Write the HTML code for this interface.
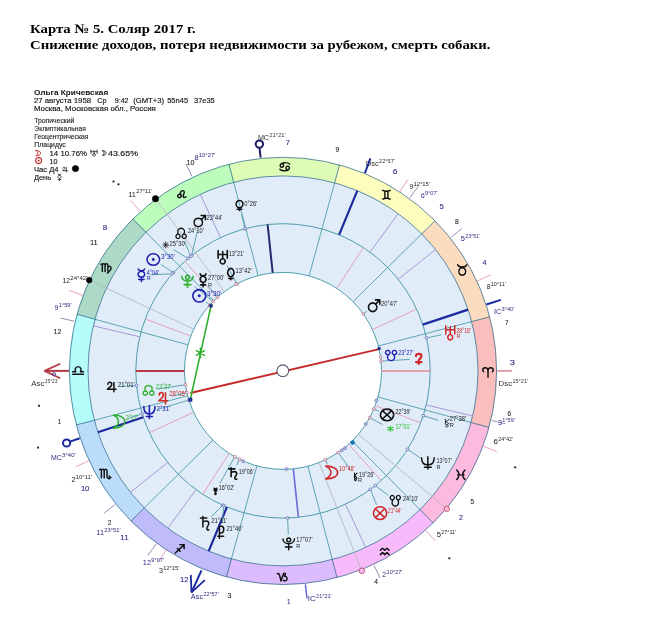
<!DOCTYPE html>
<html><head><meta charset="utf-8"><style>
html,body{margin:0;padding:0;background:#fff;}
body{width:646px;height:628px;overflow:hidden;}
svg{display:block;will-change:transform;}
</style></head><body>
<svg width="646" height="628" viewBox="0 0 646 628"><g style="opacity:0.999">
<text x="30" y="32.8" font-family='"Liberation Serif",serif' font-weight="bold" font-size="13" textLength="165.7" lengthAdjust="spacingAndGlyphs">Карта № 5. Соляр 2017 г.</text>
<text x="30" y="49.2" font-family='"Liberation Serif",serif' font-weight="bold" font-size="13" textLength="460.5" lengthAdjust="spacingAndGlyphs">Снижение доходов, потеря недвижимости за рубежом, смерть собаки.</text>
<text x="33.9" y="95" font-family='"Liberation Sans",sans-serif' font-size="7.8" fill="#111" font-weight="bold" textLength="74.3" lengthAdjust="spacingAndGlyphs">Ольга Кричевская</text>
<text x="33.9" y="103.4" font-family='"Liberation Sans",sans-serif' font-size="8" fill="#111" textLength="57.2" lengthAdjust="spacingAndGlyphs" stroke="#111" stroke-width="0.15">27 августа 1958</text>
<text x="97.3" y="103.4" font-family='"Liberation Sans",sans-serif' font-size="8" fill="#111" textLength="9.3" lengthAdjust="spacingAndGlyphs" stroke="#111" stroke-width="0.15">Ср</text>
<text x="114.8" y="103.4" font-family='"Liberation Sans",sans-serif' font-size="8" fill="#111" textLength="13.7" lengthAdjust="spacingAndGlyphs" stroke="#111" stroke-width="0.15">9:42</text>
<text x="133.2" y="103.4" font-family='"Liberation Sans",sans-serif' font-size="8" fill="#111" textLength="30.9" lengthAdjust="spacingAndGlyphs" stroke="#111" stroke-width="0.15">(GMT+3)</text>
<text x="167.2" y="103.4" font-family='"Liberation Sans",sans-serif' font-size="8" fill="#111" textLength="20.9" lengthAdjust="spacingAndGlyphs" stroke="#111" stroke-width="0.15">55n45</text>
<text x="194" y="103.4" font-family='"Liberation Sans",sans-serif' font-size="8" fill="#111" textLength="20.7" lengthAdjust="spacingAndGlyphs" stroke="#111" stroke-width="0.15">37e35</text>
<text x="33.9" y="110.9" font-family='"Liberation Sans",sans-serif' font-size="8" fill="#111" textLength="122" lengthAdjust="spacingAndGlyphs" stroke="#111" stroke-width="0.15">Москва, Московская обл., Россия</text>
<text x="34.3" y="123.2" font-family='"Liberation Sans",sans-serif' font-size="6.8" fill="#222" textLength="40.1" lengthAdjust="spacingAndGlyphs" stroke="#222" stroke-width="0.12">Тропический</text>
<text x="34.3" y="131.3" font-family='"Liberation Sans",sans-serif' font-size="6.8" fill="#222" textLength="51.5" lengthAdjust="spacingAndGlyphs" stroke="#222" stroke-width="0.12">Эклиптикальная</text>
<text x="34.3" y="139.1" font-family='"Liberation Sans",sans-serif' font-size="6.8" fill="#222" textLength="54.2" lengthAdjust="spacingAndGlyphs" stroke="#222" stroke-width="0.12">Геоцентрическая</text>
<text x="34.3" y="147" font-family='"Liberation Sans",sans-serif' font-size="6.8" fill="#222" textLength="31.5" lengthAdjust="spacingAndGlyphs" stroke="#222" stroke-width="0.12">Плацидус</text>
<path d="M0.5,0.5 C8,0.3 12,4 12,7.5 C12,11 8,14.7 0.5,14.5 C4,12.5 5.5,10.5 5.5,7.5 C5.5,4.5 4,2.5 0.5,0.5 Z" transform="translate(35.5,150.3) scale(0.42,0.38)" fill="none" stroke="#c03030" stroke-width="1.0" vector-effect="non-scaling-stroke" stroke-linecap="round" stroke-linejoin="round"/>
<text x="49.5" y="155.5" font-family='"Liberation Sans",sans-serif' font-size="8" fill="#111" textLength="37.5" lengthAdjust="spacingAndGlyphs" stroke="#111" stroke-width="0.15">14 10.76%</text>
<path d="M0,0 V8 M10,0 V8 M0,4 H10 M5,1 V8.5 M5,8.5 A2.7,2.7 0 1 0 5.01,8.5 Z" transform="translate(90.9,149.9) scale(0.62,0.44)" fill="none" stroke="#222" stroke-width="0.8" vector-effect="non-scaling-stroke" stroke-linecap="round" stroke-linejoin="round"/>
<path d="M0.5,0.5 C8,0.3 12,4 12,7.5 C12,11 8,14.7 0.5,14.5 C4,12.5 5.5,10.5 5.5,7.5 C5.5,4.5 4,2.5 0.5,0.5 Z" transform="translate(102.25,150.45) scale(0.32,0.34)" fill="none" stroke="#222" stroke-width="0.9" vector-effect="non-scaling-stroke" stroke-linecap="round" stroke-linejoin="round"/>
<text x="108" y="155.5" font-family='"Liberation Sans",sans-serif' font-size="8" fill="#111" textLength="30" lengthAdjust="spacingAndGlyphs" stroke="#111" stroke-width="0.15">43.65%</text>
<circle cx="38.6" cy="160.6" r="3" fill="none" stroke="#c03030" stroke-width="1.1"/>
<circle cx="38.6" cy="160.6" r="0.8" fill="#c03030" stroke="#c03030" stroke-width="0.5"/>
<text x="49.5" y="163.7" font-family='"Liberation Sans",sans-serif' font-size="8" fill="#111" textLength="8" lengthAdjust="spacingAndGlyphs" stroke="#111" stroke-width="0.15">10</text>
<text x="34" y="172" font-family='"Liberation Sans",sans-serif' font-size="8" fill="#111" textLength="24.5" lengthAdjust="spacingAndGlyphs" stroke="#111" stroke-width="0.15">Час Д4</text>
<path d="M0.5,2.5 C0.5,-0.5 5,-0.5 5,2.5 C5,5 2,6.5 0,8 H10 M7.5,0.5 V11" transform="translate(62.4,166.9) scale(0.52,0.47)" fill="none" stroke="#222" stroke-width="0.8" vector-effect="non-scaling-stroke" stroke-linecap="round" stroke-linejoin="round"/>
<circle cx="75.5" cy="168.6" r="3.2" fill="#000" stroke="#000" stroke-width="0.5"/>
<text x="34" y="180.3" font-family='"Liberation Sans",sans-serif' font-size="8" fill="#111" textLength="17" lengthAdjust="spacingAndGlyphs" stroke="#111" stroke-width="0.15">День</text>
<path d="M1,0 C1.5,3 7.5,3 8,0 M4.5,2.8 A3.6,3.6 0 1 0 4.51,2.8 Z M4.5,10 V15 M1.5,12.7 H7.5" transform="translate(57.4,173.9) scale(0.47,0.45)" fill="none" stroke="#222" stroke-width="0.8" vector-effect="non-scaling-stroke" stroke-linecap="round" stroke-linejoin="round"/>
<rect x="112.5" y="180.6" width="2" height="1.8" fill="#222"/>
<rect x="117.5" y="183.4" width="2" height="1.8" fill="#222"/>
<rect x="38" y="404.8" width="2" height="1.8" fill="#222"/>
<rect x="37" y="446.7" width="2" height="1.8" fill="#222"/>
<rect x="514.2" y="466.4" width="2" height="1.8" fill="#222"/>
<rect x="448.4" y="557.4" width="2" height="1.8" fill="#222"/>
<circle cx="283" cy="370.9" r="146.75" fill="none" stroke="#e0ecf8" stroke-width="96.5"/>
<path d="M488.98,427.44 A213.6,213.6 0 0 0 489.66,316.88 L471.66,321.58 A195.0,195.0 0 0 1 471.04,422.52 Z" fill="#fabebc"/>
<path d="M489.66,316.88 A213.6,213.6 0 0 0 434.96,220.79 L421.73,233.86 A195.0,195.0 0 0 1 471.66,321.58 Z" fill="#fcdcbe"/>
<path d="M434.96,220.79 A213.6,213.6 0 0 0 339.54,164.92 L334.62,182.86 A195.0,195.0 0 0 1 421.73,233.86 Z" fill="#fdfdbe"/>
<path d="M339.54,164.92 A213.6,213.6 0 0 0 228.98,164.24 L233.68,182.24 A195.0,195.0 0 0 1 334.62,182.86 Z" fill="#ddfdb6"/>
<path d="M228.98,164.24 A213.6,213.6 0 0 0 132.89,218.94 L145.96,232.17 A195.0,195.0 0 0 1 233.68,182.24 Z" fill="#bdfdbc"/>
<path d="M132.89,218.94 A213.6,213.6 0 0 0 77.02,314.36 L94.96,319.28 A195.0,195.0 0 0 1 145.96,232.17 Z" fill="#acdac6"/>
<path d="M77.02,314.36 A213.6,213.6 0 0 0 76.34,424.92 L94.34,420.22 A195.0,195.0 0 0 1 94.96,319.28 Z" fill="#b4fdfb"/>
<path d="M76.34,424.92 A213.6,213.6 0 0 0 131.04,521.01 L144.27,507.94 A195.0,195.0 0 0 1 94.34,420.22 Z" fill="#bcdcfc"/>
<path d="M131.04,521.01 A213.6,213.6 0 0 0 226.46,576.88 L231.38,558.94 A195.0,195.0 0 0 1 144.27,507.94 Z" fill="#c0bcfc"/>
<path d="M226.46,576.88 A213.6,213.6 0 0 0 337.02,577.56 L332.32,559.56 A195.0,195.0 0 0 1 231.38,558.94 Z" fill="#dcbcfc"/>
<path d="M337.02,577.56 A213.6,213.6 0 0 0 433.11,522.86 L420.04,509.63 A195.0,195.0 0 0 1 332.32,559.56 Z" fill="#f8bafa"/>
<path d="M433.11,522.86 A213.6,213.6 0 0 0 488.98,427.44 L471.04,422.52 A195.0,195.0 0 0 1 420.04,509.63 Z" fill="#fbbade"/>
<circle cx="283" cy="370.9" r="147.2" fill="none" stroke="#4f9dac" stroke-width="1"/>
<circle cx="283" cy="370.9" r="98.5" fill="none" stroke="#4f9dac" stroke-width="1"/>
<line x1="471.04" y1="422.52" x2="377.99" y2="396.97" stroke="#4f9dac" stroke-width="0.9"/>
<line x1="471.66" y1="321.58" x2="378.3" y2="345.99" stroke="#4f9dac" stroke-width="0.9"/>
<line x1="421.73" y1="233.86" x2="353.07" y2="301.68" stroke="#4f9dac" stroke-width="0.9"/>
<line x1="334.62" y1="182.86" x2="309.07" y2="275.91" stroke="#4f9dac" stroke-width="0.9"/>
<line x1="233.68" y1="182.24" x2="258.09" y2="275.6" stroke="#4f9dac" stroke-width="0.9"/>
<line x1="145.96" y1="232.17" x2="213.78" y2="300.83" stroke="#4f9dac" stroke-width="0.9"/>
<line x1="94.96" y1="319.28" x2="188.01" y2="344.83" stroke="#4f9dac" stroke-width="0.9"/>
<line x1="94.34" y1="420.22" x2="187.7" y2="395.81" stroke="#4f9dac" stroke-width="0.9"/>
<line x1="144.27" y1="507.94" x2="212.93" y2="440.12" stroke="#4f9dac" stroke-width="0.9"/>
<line x1="231.38" y1="558.94" x2="256.93" y2="465.89" stroke="#4f9dac" stroke-width="0.9"/>
<line x1="332.32" y1="559.56" x2="307.91" y2="466.2" stroke="#4f9dac" stroke-width="0.9"/>
<line x1="420.04" y1="509.63" x2="352.22" y2="440.97" stroke="#4f9dac" stroke-width="0.9"/>
<line x1="488.98" y1="427.44" x2="471.04" y2="422.52" stroke="#1a5a80" stroke-width="1.0" stroke-opacity="0.7"/>
<line x1="489.66" y1="316.88" x2="471.66" y2="321.58" stroke="#1a5a80" stroke-width="1.0" stroke-opacity="0.7"/>
<line x1="434.96" y1="220.79" x2="421.73" y2="233.86" stroke="#1a5a80" stroke-width="1.0" stroke-opacity="0.7"/>
<line x1="339.54" y1="164.92" x2="334.62" y2="182.86" stroke="#1a5a80" stroke-width="1.0" stroke-opacity="0.7"/>
<line x1="228.98" y1="164.24" x2="233.68" y2="182.24" stroke="#1a5a80" stroke-width="1.0" stroke-opacity="0.7"/>
<line x1="132.89" y1="218.94" x2="145.96" y2="232.17" stroke="#1a5a80" stroke-width="1.0" stroke-opacity="0.7"/>
<line x1="77.02" y1="314.36" x2="94.96" y2="319.28" stroke="#1a5a80" stroke-width="1.0" stroke-opacity="0.7"/>
<line x1="76.34" y1="424.92" x2="94.34" y2="420.22" stroke="#1a5a80" stroke-width="1.0" stroke-opacity="0.7"/>
<line x1="131.04" y1="521.01" x2="144.27" y2="507.94" stroke="#1a5a80" stroke-width="1.0" stroke-opacity="0.7"/>
<line x1="226.46" y1="576.88" x2="231.38" y2="558.94" stroke="#1a5a80" stroke-width="1.0" stroke-opacity="0.7"/>
<line x1="337.02" y1="577.56" x2="332.32" y2="559.56" stroke="#1a5a80" stroke-width="1.0" stroke-opacity="0.7"/>
<line x1="433.11" y1="522.86" x2="420.04" y2="509.63" stroke="#1a5a80" stroke-width="1.0" stroke-opacity="0.7"/>
<circle cx="283" cy="370.9" r="213.6" fill="none" stroke="#1a5a80" stroke-opacity="0.68" stroke-width="1"/>
<circle cx="283" cy="370.9" r="195" fill="none" stroke="#1a5a80" stroke-opacity="0.68" stroke-width="1"/>
<path d="M6,12 V5 C6,1 4.5,0 3,0 C1,0 0,1.5 0,3 C0,4 0.5,4.5 1,5 M6,5 C6,1 7.5,0 9,0 C11,0 12,1.5 12,3 C12,4 11.5,4.5 11,5" transform="translate(482.73,367.73) scale(0.88,0.79)" fill="none" stroke="#111" stroke-width="1.45" vector-effect="non-scaling-stroke" stroke-linecap="round" stroke-linejoin="round"/>
<path d="M0,0 C1,3.5 10,3.5 11,0 M5.5,3.5 A4.25,4.25 0 1 0 5.51,3.5 Z" transform="translate(457.73,264.73) scale(0.82,0.87)" fill="none" stroke="#111" stroke-width="1.45" vector-effect="non-scaling-stroke" stroke-linecap="round" stroke-linejoin="round"/>
<path d="M0,0 C3,1.3 7,1.3 10,0 M0,11 C3,9.7 7,9.7 10,11 M3,1 V10 M7,1 V10" transform="translate(382.62,190.32) scale(0.76,0.8)" fill="none" stroke="#111" stroke-width="1.45" vector-effect="non-scaling-stroke" stroke-linecap="round" stroke-linejoin="round"/>
<path d="M2.4,1.5 A2.1,2.1 0 1 0 2.41,1.5 Z M0.5,2.6 C2,0 9,-0.5 12,2 M9.6,4.3 A2.1,2.1 0 1 0 9.61,4.3 Z M11.5,7.4 C10,10 3,10.5 0,8" transform="translate(279.93,162.32) scale(0.81,0.88)" fill="none" stroke="#111" stroke-width="1.45" vector-effect="non-scaling-stroke" stroke-linecap="round" stroke-linejoin="round"/>
<path d="M5,8.5 A2.5,2.5 0 1 0 5,8.51 M5,8.5 C5,6 3.5,4.5 4,3 C4.5,0 9,-0.5 9.5,2.5 C10,5 7,7 8,9.5 C8.5,11 11,11 12,9.5" transform="translate(177.72,190.32) scale(0.69,0.67)" fill="none" stroke="#111" stroke-width="1.45" vector-effect="non-scaling-stroke" stroke-linecap="round" stroke-linejoin="round"/>
<path d="M0,1 C0.8,0.3 1.5,0.5 1.5,1.5 V10 M1.5,2.5 C1.5,-0.3 4.5,-0.3 4.5,2.5 V10 M4.5,2.5 C4.5,-0.3 7.5,-0.3 7.5,2.5 V9.5 M7.5,4.5 C9,3 11,3.5 11,6 C11,8.5 9,10 7,12" transform="translate(100.92,263.43) scale(0.93,0.8)" fill="none" stroke="#111" stroke-width="1.45" vector-effect="non-scaling-stroke" stroke-linecap="round" stroke-linejoin="round"/>
<path d="M0,9 H12 M0,6 H3.5 C2,4.5 2.5,0 6,0 C9.5,0 10,4.5 8.5,6 H12" transform="translate(72.72,366.62) scale(0.9,0.84)" fill="none" stroke="#111" stroke-width="1.45" vector-effect="non-scaling-stroke" stroke-linecap="round" stroke-linejoin="round"/>
<path d="M0,1.5 C1,0.5 2,1 2,2.5 V10 M2,3 C2,0.5 5,0.5 5,3 V10 M5,3 C5,0.5 8,0.5 8,3 V9 C8,10.5 9.5,11 12,9.8 M10.3,8 L12,9.8 L10,11" transform="translate(99.52,468.23) scale(0.94,0.96)" fill="none" stroke="#111" stroke-width="1.45" vector-effect="non-scaling-stroke" stroke-linecap="round" stroke-linejoin="round"/>
<path d="M0,11 L11,0 M5.5,0 H11 V5.5 M2.5,5 L6,8.5" transform="translate(175.32,544.62) scale(0.8,0.77)" fill="none" stroke="#111" stroke-width="1.45" vector-effect="non-scaling-stroke" stroke-linecap="round" stroke-linejoin="round"/>
<path d="M0,1.5 C1,0.5 2,1.5 2.5,3 L4.5,12 L7.5,2 C8,0.3 10,0.5 10,2.5 C10,4 8.5,5 8.5,5 C11,5 12,7 12,9 C12,11.5 9.5,12.5 7.5,11" transform="translate(277.43,572.62) scale(0.8,0.7)" fill="none" stroke="#111" stroke-width="1.45" vector-effect="non-scaling-stroke" stroke-linecap="round" stroke-linejoin="round"/>
<path d="M0,3 L3,0.5 L6,3 L9,0.5 L12,3 M0,8 L3,5.5 L6,8 L9,5.5 L12,8" transform="translate(380.33,547.73) scale(0.73,0.86)" fill="none" stroke="#111" stroke-width="1.45" vector-effect="non-scaling-stroke" stroke-linecap="round" stroke-linejoin="round"/>
<path d="M0.5,0 C4,2.5 4,8.5 0.5,11 M10.5,0 C7,2.5 7,8.5 10.5,11 M1.5,5.5 H9.5" transform="translate(456.33,470.12) scale(0.82,0.86)" fill="none" stroke="#111" stroke-width="1.45" vector-effect="non-scaling-stroke" stroke-linecap="round" stroke-linejoin="round"/>
<line x1="193.61" y1="412.26" x2="149.41" y2="432.71" stroke="#e6a0c0" stroke-width="1.0"/>
<line x1="89.15" y1="460.6" x2="75.53" y2="466.9" stroke="#e6a0c0" stroke-width="1.0"/>
<line x1="229.21" y1="453.42" x2="202.61" y2="494.21" stroke="#e6a0c0" stroke-width="1.0"/>
<line x1="166.35" y1="549.84" x2="158.16" y2="562.4" stroke="#e6a0c0" stroke-width="1.0"/>
<line x1="348.69" y1="444.29" x2="381.17" y2="480.58" stroke="#e6a0c0" stroke-width="1.0"/>
<line x1="425.45" y1="530.06" x2="435.46" y2="541.24" stroke="#e6a0c0" stroke-width="1.0"/>
<line x1="375.17" y1="405.64" x2="420.74" y2="422.81" stroke="#e6a0c0" stroke-width="1.0"/>
<line x1="482.88" y1="446.23" x2="496.91" y2="451.52" stroke="#e6a0c0" stroke-width="1.0"/>
<line x1="372.39" y1="329.54" x2="416.59" y2="309.09" stroke="#e6a0c0" stroke-width="1.0"/>
<line x1="476.85" y1="281.2" x2="490.47" y2="274.9" stroke="#e6a0c0" stroke-width="1.0"/>
<line x1="336.79" y1="288.38" x2="363.39" y2="247.59" stroke="#e6a0c0" stroke-width="1.0"/>
<line x1="399.65" y1="191.96" x2="407.84" y2="179.4" stroke="#e6a0c0" stroke-width="1.0"/>
<line x1="217.31" y1="297.51" x2="184.83" y2="261.22" stroke="#e6a0c0" stroke-width="1.0"/>
<line x1="140.55" y1="211.74" x2="130.54" y2="200.56" stroke="#e6a0c0" stroke-width="1.0"/>
<line x1="190.83" y1="336.16" x2="145.26" y2="318.99" stroke="#e6a0c0" stroke-width="1.0"/>
<line x1="83.12" y1="295.57" x2="69.09" y2="290.28" stroke="#e6a0c0" stroke-width="1.0"/>
<line x1="345.44" y1="504.2" x2="365.72" y2="547.49" stroke="#a898d8" stroke-width="1.0"/>
<line x1="374.03" y1="565.24" x2="379.97" y2="577.91" stroke="#9890b8" stroke-width="1.0"/>
<line x1="426.21" y1="404.94" x2="472.71" y2="415.99" stroke="#a898d8" stroke-width="1.0"/>
<line x1="491.78" y1="420.52" x2="505.4" y2="423.76" stroke="#9890b8" stroke-width="1.0"/>
<line x1="398.2" y1="279.27" x2="435.61" y2="249.51" stroke="#a898d8" stroke-width="1.0"/>
<line x1="450.95" y1="237.31" x2="461.9" y2="228.59" stroke="#9890b8" stroke-width="1.0"/>
<line x1="370" y1="252.16" x2="398.25" y2="213.6" stroke="#a898d8" stroke-width="1.0"/>
<line x1="409.83" y1="197.79" x2="418.11" y2="186.5" stroke="#9890b8" stroke-width="1.0"/>
<line x1="220.56" y1="237.6" x2="200.28" y2="194.31" stroke="#a898d8" stroke-width="1.0"/>
<line x1="191.97" y1="176.56" x2="186.03" y2="163.89" stroke="#9890b8" stroke-width="1.0"/>
<line x1="139.79" y1="336.86" x2="93.29" y2="325.81" stroke="#a898d8" stroke-width="1.0"/>
<line x1="74.22" y1="321.28" x2="60.6" y2="318.04" stroke="#9890b8" stroke-width="1.0"/>
<line x1="167.8" y1="462.53" x2="130.39" y2="492.29" stroke="#a898d8" stroke-width="1.0"/>
<line x1="115.05" y1="504.49" x2="104.1" y2="513.21" stroke="#9890b8" stroke-width="1.0"/>
<line x1="196" y1="489.64" x2="167.75" y2="528.2" stroke="#a898d8" stroke-width="1.0"/>
<line x1="156.17" y1="544.01" x2="147.89" y2="555.3" stroke="#9890b8" stroke-width="1.0"/>
<line x1="135.8" y1="370.9" x2="184.5" y2="370.9" stroke="#b83a48" stroke-width="2"/>
<line x1="381.5" y1="370.9" x2="430.2" y2="370.9" stroke="#e0a0a8" stroke-width="2"/>
<line x1="272.7" y1="272.94" x2="267.61" y2="224.51" stroke="#222a70" stroke-width="2"/>
<line x1="293.3" y1="468.86" x2="298.39" y2="517.29" stroke="#6a6ad8" stroke-width="1.6"/>
<line x1="226.91" y1="506.99" x2="208.69" y2="551.19" stroke="#1c2aa0" stroke-width="2.2"/>
<line x1="339.09" y1="234.81" x2="357.31" y2="190.61" stroke="#1c2aa0" stroke-width="2.2"/>
<line x1="143.26" y1="417.17" x2="97.88" y2="432.19" stroke="#1c2aa0" stroke-width="2.2"/>
<line x1="422.74" y1="324.63" x2="468.12" y2="309.61" stroke="#1c2aa0" stroke-width="2.2"/>
<line x1="155.95" y1="199.2" x2="224.41" y2="291.72" stroke="#b8b8c0" stroke-width="0.9"/>
<line x1="89.57" y1="280.29" x2="193.8" y2="329.12" stroke="#b8b8c0" stroke-width="0.9"/>
<line x1="446.39" y1="508.48" x2="358.34" y2="434.35" stroke="#b8b8c0" stroke-width="0.9"/>
<line x1="361.28" y1="569.64" x2="319.1" y2="462.55" stroke="#b8b8c0" stroke-width="0.9"/>
<circle cx="155.5" cy="198.7" r="3.2" fill="#000" stroke="#000" stroke-width="0.5"/>
<circle cx="89.2" cy="280.1" r="2.9" fill="#000" stroke="#000" stroke-width="0.5"/>
<circle cx="446.8" cy="508.8" r="2.7" fill="#f8bde2" stroke="#c05060" stroke-width="0.9"/>
<circle cx="361.9" cy="570.8" r="2.8" fill="#f5baf6" stroke="#c05060" stroke-width="0.9"/>
<line x1="44.5" y1="370.9" x2="69" y2="370.9" stroke="#b83a48" stroke-width="2"/>
<line x1="44.5" y1="370.9" x2="60.2" y2="363.7" stroke="#b83a48" stroke-width="1.8"/>
<line x1="44.5" y1="370.9" x2="60.2" y2="378.2" stroke="#b83a48" stroke-width="1.8"/>
<circle cx="54" cy="374.2" r="1.6" fill="none" stroke="#5050a0" stroke-width="1"/>
<text x="31.2" y="386" font-family='"Liberation Sans",sans-serif' font-size="7" fill="#333" textLength="13.3" lengthAdjust="spacingAndGlyphs">Asc</text>
<text x="44.8" y="383" font-family='"Liberation Sans",sans-serif' font-size="5.5" fill="#333" textLength="13.5" lengthAdjust="spacingAndGlyphs">15°21'</text>
<line x1="497.2" y1="370.9" x2="512.2" y2="370.9" stroke="#e0a0a8" stroke-width="2"/>
<text x="498.6" y="386.4" font-family='"Liberation Sans",sans-serif' font-size="7" fill="#333" textLength="13.6" lengthAdjust="spacingAndGlyphs">Dsc</text>
<text x="512.5" y="383.4" font-family='"Liberation Sans",sans-serif' font-size="5.5" fill="#333" textLength="15.5" lengthAdjust="spacingAndGlyphs">15°21'</text>
<circle cx="259.4" cy="144.1" r="3.7" fill="none" stroke="#1e1e60" stroke-width="2"/>
<line x1="259.5" y1="147.9" x2="260.6" y2="157.5" stroke="#1e1e60" stroke-width="2"/>
<text x="257.9" y="139.5" font-family='"Liberation Sans",sans-serif' font-size="7" fill="#333" textLength="11.1" lengthAdjust="spacingAndGlyphs">MC</text>
<text x="269.3" y="136.5" font-family='"Liberation Sans",sans-serif' font-size="5.5" fill="#333" textLength="16.3" lengthAdjust="spacingAndGlyphs">21°21'</text>
<line x1="305.4" y1="584.4" x2="307" y2="598.5" stroke="#6a6ad8" stroke-width="1.5"/>
<text x="307.7" y="600.7" font-family='"Liberation Sans",sans-serif' font-size="7" fill="#2a2a80" textLength="8.1" lengthAdjust="spacingAndGlyphs">IC</text>
<text x="316.1" y="597.7" font-family='"Liberation Sans",sans-serif' font-size="5.5" fill="#2a2a80" textLength="15.6" lengthAdjust="spacingAndGlyphs">21°21'</text>
<line x1="201.5" y1="570.4" x2="191.5" y2="592.4" stroke="#1c2aa0" stroke-width="2"/>
<line x1="191.5" y1="592.4" x2="190.8" y2="575" stroke="#1c2aa0" stroke-width="1.8"/>
<line x1="191.5" y1="592.4" x2="204.8" y2="580.1" stroke="#1c2aa0" stroke-width="1.8"/>
<text x="190.8" y="599.4" font-family='"Liberation Sans",sans-serif' font-size="7" fill="#2a2a80" textLength="12.3" lengthAdjust="spacingAndGlyphs">Asc</text>
<text x="203.4" y="596.4" font-family='"Liberation Sans",sans-serif' font-size="5.5" fill="#2a2a80" textLength="15.3" lengthAdjust="spacingAndGlyphs">22°57'</text>
<line x1="370.4" y1="158.4" x2="364.9" y2="173.2" stroke="#1c2aa0" stroke-width="2"/>
<text x="365.8" y="165.8" font-family='"Liberation Sans",sans-serif' font-size="7" fill="#333" textLength="13" lengthAdjust="spacingAndGlyphs">Dsc</text>
<text x="379.1" y="162.8" font-family='"Liberation Sans",sans-serif' font-size="5.5" fill="#333" textLength="15.8" lengthAdjust="spacingAndGlyphs">22°57'</text>
<circle cx="66.6" cy="443" r="3.6" fill="none" stroke="#1c2aa0" stroke-width="2"/>
<line x1="70" y1="441.6" x2="79.7" y2="438.2" stroke="#1c2aa0" stroke-width="2"/>
<text x="51" y="459.7" font-family='"Liberation Sans",sans-serif' font-size="7" fill="#2a2a80" textLength="10.8" lengthAdjust="spacingAndGlyphs">MC</text>
<text x="62.1" y="456.7" font-family='"Liberation Sans",sans-serif' font-size="5.5" fill="#2a2a80" textLength="13.6" lengthAdjust="spacingAndGlyphs">3°40'</text>
<line x1="500.9" y1="299.9" x2="486.4" y2="304.5" stroke="#1c2aa0" stroke-width="2"/>
<text x="493.9" y="313.8" font-family='"Liberation Sans",sans-serif' font-size="7" fill="#2a2a80" textLength="7.4" lengthAdjust="spacingAndGlyphs">IC</text>
<text x="501.6" y="310.8" font-family='"Liberation Sans",sans-serif' font-size="5.5" fill="#2a2a80" textLength="12.6" lengthAdjust="spacingAndGlyphs">3°40'</text>
<text x="409.4" y="189" font-family='"Liberation Sans",sans-serif' font-size="7.5" fill="#222" textLength="3.8" lengthAdjust="spacingAndGlyphs">9</text>
<text x="413.5" y="185.9" font-family='"Liberation Sans",sans-serif' font-size="5.5" fill="#222" textLength="16.5" lengthAdjust="spacingAndGlyphs">12°15'</text>
<text x="486.8" y="288.7" font-family='"Liberation Sans",sans-serif' font-size="7.5" fill="#222" textLength="3.7" lengthAdjust="spacingAndGlyphs">8</text>
<text x="490.8" y="285.6" font-family='"Liberation Sans",sans-serif' font-size="5.5" fill="#222" textLength="15" lengthAdjust="spacingAndGlyphs">10°11'</text>
<text x="493.6" y="444" font-family='"Liberation Sans",sans-serif' font-size="7.5" fill="#222" textLength="4.4" lengthAdjust="spacingAndGlyphs">6</text>
<text x="498.3" y="440.9" font-family='"Liberation Sans",sans-serif' font-size="5.5" fill="#222" textLength="14.6" lengthAdjust="spacingAndGlyphs">24°42'</text>
<text x="436.7" y="537.1" font-family='"Liberation Sans",sans-serif' font-size="7.5" fill="#222" textLength="4.3" lengthAdjust="spacingAndGlyphs">5</text>
<text x="441.3" y="534" font-family='"Liberation Sans",sans-serif' font-size="5.5" fill="#222" textLength="14.7" lengthAdjust="spacingAndGlyphs">27°11'</text>
<text x="159" y="572.7" font-family='"Liberation Sans",sans-serif' font-size="7.5" fill="#222" textLength="4" lengthAdjust="spacingAndGlyphs">3</text>
<text x="163.3" y="569.6" font-family='"Liberation Sans",sans-serif' font-size="5.5" fill="#222" textLength="15.8" lengthAdjust="spacingAndGlyphs">12°15'</text>
<text x="71.4" y="482.4" font-family='"Liberation Sans",sans-serif' font-size="7.5" fill="#222" textLength="4.1" lengthAdjust="spacingAndGlyphs">2</text>
<text x="75.8" y="479.3" font-family='"Liberation Sans",sans-serif' font-size="5.5" fill="#222" textLength="16.2" lengthAdjust="spacingAndGlyphs">10°11'</text>
<text x="62.4" y="283.4" font-family='"Liberation Sans",sans-serif' font-size="7.5" fill="#222" textLength="7.6" lengthAdjust="spacingAndGlyphs">12</text>
<text x="70.3" y="280.3" font-family='"Liberation Sans",sans-serif' font-size="5.5" fill="#222" textLength="17" lengthAdjust="spacingAndGlyphs">24°42'</text>
<text x="128.3" y="196.5" font-family='"Liberation Sans",sans-serif' font-size="7.5" fill="#222" textLength="7.7" lengthAdjust="spacingAndGlyphs">11</text>
<text x="136.3" y="193.4" font-family='"Liberation Sans",sans-serif' font-size="5.5" fill="#222" textLength="15.8" lengthAdjust="spacingAndGlyphs">27°11'</text>
<text x="421" y="197.9" font-family='"Liberation Sans",sans-serif' font-size="7.5" fill="#2a2a80" textLength="3.7" lengthAdjust="spacingAndGlyphs">6</text>
<text x="425" y="194.8" font-family='"Liberation Sans",sans-serif' font-size="5.5" fill="#2a2a80" textLength="12.6" lengthAdjust="spacingAndGlyphs">9°07'</text>
<text x="460.8" y="241.4" font-family='"Liberation Sans",sans-serif' font-size="7.5" fill="#2a2a80" textLength="4.2" lengthAdjust="spacingAndGlyphs">5</text>
<text x="465.3" y="238.3" font-family='"Liberation Sans",sans-serif' font-size="5.5" fill="#2a2a80" textLength="14.6" lengthAdjust="spacingAndGlyphs">23°51'</text>
<text x="498" y="425.3" font-family='"Liberation Sans",sans-serif' font-size="7.5" fill="#2a2a80" textLength="4" lengthAdjust="spacingAndGlyphs">3</text>
<text x="502.3" y="422.2" font-family='"Liberation Sans",sans-serif' font-size="5.5" fill="#2a2a80" textLength="12.6" lengthAdjust="spacingAndGlyphs">1°59'</text>
<text x="382.3" y="576.8" font-family='"Liberation Sans",sans-serif' font-size="7.5" fill="#2a2a80" textLength="3.9" lengthAdjust="spacingAndGlyphs">2</text>
<text x="386.5" y="573.7" font-family='"Liberation Sans",sans-serif' font-size="5.5" fill="#2a2a80" textLength="15.9" lengthAdjust="spacingAndGlyphs">10°27'</text>
<text x="142.8" y="564.6" font-family='"Liberation Sans",sans-serif' font-size="7.5" fill="#2a2a80" textLength="8.2" lengthAdjust="spacingAndGlyphs">12</text>
<text x="151.3" y="561.5" font-family='"Liberation Sans",sans-serif' font-size="5.5" fill="#2a2a80" textLength="12.7" lengthAdjust="spacingAndGlyphs">9°07'</text>
<text x="96.4" y="535" font-family='"Liberation Sans",sans-serif' font-size="7.5" fill="#2a2a80" textLength="7.6" lengthAdjust="spacingAndGlyphs">11</text>
<text x="104.3" y="531.9" font-family='"Liberation Sans",sans-serif' font-size="5.5" fill="#2a2a80" textLength="16.3" lengthAdjust="spacingAndGlyphs">23°51'</text>
<text x="54.6" y="310.2" font-family='"Liberation Sans",sans-serif' font-size="7.5" fill="#2a2a80" textLength="3.9" lengthAdjust="spacingAndGlyphs">9</text>
<text x="58.8" y="307.1" font-family='"Liberation Sans",sans-serif' font-size="5.5" fill="#2a2a80" textLength="12.8" lengthAdjust="spacingAndGlyphs">1°59'</text>
<text x="194.4" y="159.8" font-family='"Liberation Sans",sans-serif' font-size="7.5" fill="#2a2a80" textLength="4.1" lengthAdjust="spacingAndGlyphs">8</text>
<text x="198.8" y="156.7" font-family='"Liberation Sans",sans-serif' font-size="5.5" fill="#2a2a80" textLength="16.5" lengthAdjust="spacingAndGlyphs">10°27'</text>
<text x="186.5" y="165.3" font-family='"Liberation Sans",sans-serif' font-size="8" fill="#222" textLength="7.9" lengthAdjust="spacingAndGlyphs" stroke="#222" stroke-width="0.1">10</text>
<text x="335.5" y="151.6" font-family='"Liberation Sans",sans-serif' font-size="8" fill="#222" textLength="3.7" lengthAdjust="spacingAndGlyphs" stroke="#222" stroke-width="0.1">9</text>
<text x="455" y="224.3" font-family='"Liberation Sans",sans-serif' font-size="8" fill="#222" textLength="3.7" lengthAdjust="spacingAndGlyphs" stroke="#222" stroke-width="0.1">8</text>
<text x="505" y="325" font-family='"Liberation Sans",sans-serif' font-size="8" fill="#222" textLength="3.6" lengthAdjust="spacingAndGlyphs" stroke="#222" stroke-width="0.1">7</text>
<text x="507.4" y="415.7" font-family='"Liberation Sans",sans-serif' font-size="8" fill="#222" textLength="3.6" lengthAdjust="spacingAndGlyphs" stroke="#222" stroke-width="0.1">6</text>
<text x="470.6" y="504" font-family='"Liberation Sans",sans-serif' font-size="8" fill="#222" textLength="3.6" lengthAdjust="spacingAndGlyphs" stroke="#222" stroke-width="0.1">5</text>
<text x="374.3" y="584.4" font-family='"Liberation Sans",sans-serif' font-size="8" fill="#222" textLength="3.7" lengthAdjust="spacingAndGlyphs" stroke="#222" stroke-width="0.1">4</text>
<text x="227.5" y="598.2" font-family='"Liberation Sans",sans-serif' font-size="8" fill="#222" textLength="4" lengthAdjust="spacingAndGlyphs" stroke="#222" stroke-width="0.1">3</text>
<text x="107.9" y="524.7" font-family='"Liberation Sans",sans-serif' font-size="8" fill="#222" textLength="3.4" lengthAdjust="spacingAndGlyphs" stroke="#222" stroke-width="0.1">2</text>
<text x="57.7" y="424" font-family='"Liberation Sans",sans-serif' font-size="8" fill="#222" textLength="3.4" lengthAdjust="spacingAndGlyphs" stroke="#222" stroke-width="0.1">1</text>
<text x="53.5" y="333.6" font-family='"Liberation Sans",sans-serif' font-size="8" fill="#222" textLength="7.8" lengthAdjust="spacingAndGlyphs" stroke="#222" stroke-width="0.1">12</text>
<text x="90" y="245.3" font-family='"Liberation Sans",sans-serif' font-size="8" fill="#222" textLength="7.8" lengthAdjust="spacingAndGlyphs" stroke="#222" stroke-width="0.1">11</text>
<text x="285.7" y="144.5" font-family='"Liberation Sans",sans-serif' font-size="8" fill="#2a2a80" textLength="4.1" lengthAdjust="spacingAndGlyphs" stroke="#2a2a80" stroke-width="0.1">7</text>
<text x="392.7" y="173.8" font-family='"Liberation Sans",sans-serif' font-size="8" fill="#2a2a80" textLength="4.7" lengthAdjust="spacingAndGlyphs" stroke="#2a2a80" stroke-width="0.1">6</text>
<text x="439.5" y="209" font-family='"Liberation Sans",sans-serif' font-size="8" fill="#2a2a80" textLength="4.3" lengthAdjust="spacingAndGlyphs" stroke="#2a2a80" stroke-width="0.1">5</text>
<text x="482.4" y="265.1" font-family='"Liberation Sans",sans-serif' font-size="8" fill="#2a2a80" textLength="4" lengthAdjust="spacingAndGlyphs" stroke="#2a2a80" stroke-width="0.1">4</text>
<text x="509.8" y="365" font-family='"Liberation Sans",sans-serif' font-size="8" fill="#2a2a80" textLength="5.2" lengthAdjust="spacingAndGlyphs" stroke="#2a2a80" stroke-width="0.1">3</text>
<text x="459" y="519.7" font-family='"Liberation Sans",sans-serif' font-size="8" fill="#2a2a80" textLength="4" lengthAdjust="spacingAndGlyphs" stroke="#2a2a80" stroke-width="0.1">2</text>
<text x="287" y="604" font-family='"Liberation Sans",sans-serif' font-size="8" fill="#2a2a80" textLength="3.4" lengthAdjust="spacingAndGlyphs" stroke="#2a2a80" stroke-width="0.1">1</text>
<text x="180" y="582" font-family='"Liberation Sans",sans-serif' font-size="8" fill="#2a2a80" textLength="8.5" lengthAdjust="spacingAndGlyphs" stroke="#2a2a80" stroke-width="0.1">12</text>
<text x="120.3" y="539.8" font-family='"Liberation Sans",sans-serif' font-size="8" fill="#2a2a80" textLength="8.4" lengthAdjust="spacingAndGlyphs" stroke="#2a2a80" stroke-width="0.1">11</text>
<text x="80.9" y="490.8" font-family='"Liberation Sans",sans-serif' font-size="8" fill="#2a2a80" textLength="8.4" lengthAdjust="spacingAndGlyphs" stroke="#2a2a80" stroke-width="0.1">10</text>
<text x="102.8" y="229.7" font-family='"Liberation Sans",sans-serif' font-size="8" fill="#2a2a80" textLength="4.4" lengthAdjust="spacingAndGlyphs" stroke="#2a2a80" stroke-width="0.1">8</text>
<line x1="244.95" y1="228.7" x2="241.56" y2="214.26" stroke="#4f9dac" stroke-width="0.9"/>
<line x1="191.61" y1="255.51" x2="197.63" y2="229.96" stroke="#4f9dac" stroke-width="0.9"/>
<line x1="190.72" y1="256.21" x2="184.6" y2="241.69" stroke="#4f9dac" stroke-width="0.9"/>
<line x1="188.09" y1="258.39" x2="173.47" y2="249.63" stroke="#4f9dac" stroke-width="0.9"/>
<line x1="173.35" y1="272.69" x2="160.77" y2="264.44" stroke="#4f9dac" stroke-width="0.9"/>
<line x1="172.38" y1="273.79" x2="150.39" y2="274.79" stroke="#4f9dac" stroke-width="0.9"/>
<line x1="136.52" y1="385.44" x2="120.73" y2="386.44" stroke="#4f9dac" stroke-width="0.9"/>
<line x1="142.18" y1="413.77" x2="127.53" y2="418.72" stroke="#4f9dac" stroke-width="0.9"/>
<line x1="222.73" y1="505.2" x2="211.16" y2="516.98" stroke="#4f9dac" stroke-width="0.9"/>
<line x1="223.88" y1="505.71" x2="222.05" y2="523.05" stroke="#4f9dac" stroke-width="0.9"/>
<line x1="287.62" y1="518.03" x2="288.32" y2="534.46" stroke="#4f9dac" stroke-width="0.9"/>
<line x1="370.31" y1="489.41" x2="376.63" y2="504.82" stroke="#4f9dac" stroke-width="0.9"/>
<line x1="375.28" y1="485.59" x2="388.11" y2="495.24" stroke="#4f9dac" stroke-width="0.9"/>
<line x1="407.52" y1="449.4" x2="420.36" y2="457.96" stroke="#4f9dac" stroke-width="0.9"/>
<line x1="423.22" y1="415.7" x2="438.3" y2="420.35" stroke="#4f9dac" stroke-width="0.9"/>
<line x1="426.46" y1="337.91" x2="441.44" y2="334.76" stroke="#4f9dac" stroke-width="0.9"/>
<circle cx="244.95" cy="228.7" r="1.4" fill="#e2ecf8" stroke="#6a6ab0" stroke-width="0.8"/>
<path d="M4.5,0 A4.4,4.4 0 1 0 4.51,0 Z M4.5,8.8 V12 M1.5,10.6 H7.5" transform="translate(235.95,200.45) scale(0.79,0.84)" fill="none" stroke="#111" stroke-width="1.5" vector-effect="non-scaling-stroke" stroke-linecap="round" stroke-linejoin="round"/>
<text x="244.2" y="205.5" font-family='"Liberation Sans",sans-serif' font-size="6.3" fill="#222" textLength="13" lengthAdjust="spacingAndGlyphs">0°26'</text>
<circle cx="191.61" cy="255.51" r="1.4" fill="#e2ecf8" stroke="#6a6ab0" stroke-width="0.8"/>
<path d="M4.5,3 A4.5,4.5 0 1 0 4.51,3 Z M7.7,4.3 L12,0 M7.5,0 H12 V4.5" transform="translate(193.95,215.55) scale(0.96,0.94)" fill="none" stroke="#111" stroke-width="1.5" vector-effect="non-scaling-stroke" stroke-linecap="round" stroke-linejoin="round"/>
<text x="206.6" y="220" font-family='"Liberation Sans",sans-serif' font-size="6.3" fill="#222" textLength="15.8" lengthAdjust="spacingAndGlyphs">23°44'</text>
<circle cx="190.72" cy="256.21" r="1.4" fill="#e2ecf8" stroke="#6a6ab0" stroke-width="0.8"/>
<path d="M2.4,6.2 A2.4,2.4 0 1 0 2.41,6.2 Z M9.6,6.2 A2.4,2.4 0 1 0 9.61,6.2 Z M3,6.3 C1.5,4.5 1.8,1.8 3.5,0.8 C5,-0.2 7,-0.2 8.5,0.8 C10.2,1.8 10.5,4.5 9,6.3" transform="translate(175.95,228.25) scale(0.86,0.94)" fill="none" stroke="#111" stroke-width="1.3" vector-effect="non-scaling-stroke" stroke-linecap="round" stroke-linejoin="round"/>
<text x="188" y="232.9" font-family='"Liberation Sans",sans-serif' font-size="6.3" fill="#222" textLength="15.8" lengthAdjust="spacingAndGlyphs">24°10'</text>
<circle cx="188.09" cy="258.39" r="1.4" fill="#e2ecf8" stroke="#6a6ab0" stroke-width="0.8"/>
<path d="M3,0 V6 M0,3 H6 M0.8,0.8 L5.2,5.2 M5.2,0.8 L0.8,5.2" transform="translate(162.9,241.9) scale(0.95,1.03)" fill="none" stroke="#111" stroke-width="0.8" vector-effect="non-scaling-stroke" stroke-linecap="round" stroke-linejoin="round"/>
<text x="169.5" y="245.5" font-family='"Liberation Sans",sans-serif' font-size="6.3" fill="#222" textLength="16.2" lengthAdjust="spacingAndGlyphs">25°30'</text>
<circle cx="173.35" cy="272.69" r="1.4" fill="#e2ecf8" stroke="#6a6ab0" stroke-width="0.8"/>
<path d="M7,0 A7,7 0 1 0 7.01,0 Z M7,6.2 A0.8,0.8 0 1 0 7.01,6.2 Z" transform="translate(147.05,253.85) scale(0.89,0.81)" fill="none" stroke="#2020b0" stroke-width="1.5" vector-effect="non-scaling-stroke" stroke-linecap="round" stroke-linejoin="round"/>
<text x="161.3" y="258.5" font-family='"Liberation Sans",sans-serif' font-size="6.3" fill="#2020b0" textLength="13.3" lengthAdjust="spacingAndGlyphs">3°30'</text>
<circle cx="172.38" cy="273.79" r="1.4" fill="#e2ecf8" stroke="#6a6ab0" stroke-width="0.8"/>
<path d="M1,0 C1.5,3 7.5,3 8,0 M4.5,2.8 A3.6,3.6 0 1 0 4.51,2.8 Z M4.5,10 V15 M1.5,12.7 H7.5" transform="translate(137.25,268.95) scale(0.92,0.83)" fill="none" stroke="#2020b0" stroke-width="1.5" vector-effect="non-scaling-stroke" stroke-linecap="round" stroke-linejoin="round"/>
<text x="146.7" y="274.6" font-family='"Liberation Sans",sans-serif' font-size="6.3" fill="#2020b0" textLength="12.3" lengthAdjust="spacingAndGlyphs">4°04'</text>
<text x="146.7" y="279.8" font-family='"Liberation Sans",sans-serif' font-size="6" fill="#2020b0" textLength="4" lengthAdjust="spacingAndGlyphs">R</text>
<circle cx="136.52" cy="385.44" r="1.4" fill="#e2ecf8" stroke="#6a6ab0" stroke-width="0.8"/>
<path d="M0.5,2.5 C0.5,-0.5 5,-0.5 5,2.5 C5,5 2,6.5 0,8 H10 M7.5,0.5 V11" transform="translate(107.45,382.15) scale(0.86,0.88)" fill="none" stroke="#111" stroke-width="1.5" vector-effect="non-scaling-stroke" stroke-linecap="round" stroke-linejoin="round"/>
<text x="117.9" y="386.5" font-family='"Liberation Sans",sans-serif' font-size="6.3" fill="#222" textLength="16.7" lengthAdjust="spacingAndGlyphs">21°01'</text>
<circle cx="142.18" cy="413.77" r="1.4" fill="#e2ecf8" stroke="#6a6ab0" stroke-width="0.8"/>
<path d="M0.5,0.5 C8,0.3 12,4 12,7.5 C12,11 8,14.7 0.5,14.5 C4,12.5 5.5,10.5 5.5,7.5 C5.5,4.5 4,2.5 0.5,0.5 Z" transform="translate(113.05,414.55) scale(0.99,0.94)" fill="none" stroke="#30b030" stroke-width="1.5" vector-effect="non-scaling-stroke" stroke-linecap="round" stroke-linejoin="round"/>
<text x="125.7" y="419.5" font-family='"Liberation Sans",sans-serif' font-size="6.3" fill="#30b030" textLength="12.3" lengthAdjust="spacingAndGlyphs">2°17'</text>
<circle cx="222.73" cy="505.2" r="1.4" fill="#e2ecf8" stroke="#6a6ab0" stroke-width="0.8"/>
<path d="M2.5,0 V11.5 M0,1.5 H6.5 M2.5,6.5 C3.5,4.5 8.5,4 8.5,7.5 C8.5,10 6.5,11 6.5,13 C6.5,14.5 7.5,15 8.5,14.5" transform="translate(200.45,516.55) scale(0.98,0.91)" fill="none" stroke="#111" stroke-width="1.5" vector-effect="non-scaling-stroke" stroke-linecap="round" stroke-linejoin="round"/>
<text x="211.3" y="522.8" font-family='"Liberation Sans",sans-serif' font-size="6.3" fill="#222" textLength="16.2" lengthAdjust="spacingAndGlyphs">21°11'</text>
<circle cx="223.88" cy="505.71" r="1.4" fill="#e2ecf8" stroke="#6a6ab0" stroke-width="0.8"/>
<path d="M2,13 V0.5 H4.5 C8,0.5 8,7.5 4.5,7.5 H2 M0,11 H7" transform="translate(217.75,525.75) scale(0.84,0.96)" fill="none" stroke="#111" stroke-width="1.5" vector-effect="non-scaling-stroke" stroke-linecap="round" stroke-linejoin="round"/>
<text x="226.4" y="531.4" font-family='"Liberation Sans",sans-serif' font-size="6.3" fill="#222" textLength="16.2" lengthAdjust="spacingAndGlyphs">21°40'</text>
<circle cx="287.62" cy="518.03" r="1.4" fill="#e2ecf8" stroke="#6a6ab0" stroke-width="0.8"/>
<path d="M0,2 C0,9 12,9 12,2 M6,1 A2.1,2.1 0 1 0 6.01,1 Z M6,7.5 V14 M2.5,11 H9.5" transform="translate(282.95,537.15) scale(0.96,0.9)" fill="none" stroke="#111" stroke-width="1.5" vector-effect="non-scaling-stroke" stroke-linecap="round" stroke-linejoin="round"/>
<text x="296.3" y="542" font-family='"Liberation Sans",sans-serif' font-size="6.3" fill="#222" textLength="16.2" lengthAdjust="spacingAndGlyphs">17°07'</text>
<text x="296.3" y="547.9" font-family='"Liberation Sans",sans-serif' font-size="6" fill="#222" textLength="4" lengthAdjust="spacingAndGlyphs">R</text>
<circle cx="370.31" cy="489.41" r="1.4" fill="#e2ecf8" stroke="#6a6ab0" stroke-width="0.8"/>
<path d="M6.5,0 A6.5,6.5 0 1 0 6.51,0 Z M1.9,1.9 L11.1,11.1 M11.1,1.9 L1.9,11.1" transform="translate(373.55,506.85) scale(1,0.97)" fill="none" stroke="#d02828" stroke-width="1.5" vector-effect="non-scaling-stroke" stroke-linecap="round" stroke-linejoin="round"/>
<text x="388" y="512.6" font-family='"Liberation Sans",sans-serif' font-size="6.3" fill="#d02828" textLength="13.4" lengthAdjust="spacingAndGlyphs">21°44'</text>
<circle cx="375.28" cy="485.59" r="1.4" fill="#e2ecf8" stroke="#6a6ab0" stroke-width="0.8"/>
<path d="M2.4,0 A2.4,2.4 0 1 0 2.41,0 Z M9.6,0 A2.4,2.4 0 1 0 9.61,0 Z M3.2,4.6 C2,6.5 2,9 3.5,10.2 C5,11.3 7,11.3 8.5,10.2 C10,9 10,6.5 8.8,4.6" transform="translate(390.25,495.35) scale(0.84,0.96)" fill="none" stroke="#111" stroke-width="1.3" vector-effect="non-scaling-stroke" stroke-linecap="round" stroke-linejoin="round"/>
<text x="403" y="500.8" font-family='"Liberation Sans",sans-serif' font-size="6.3" fill="#222" textLength="15.3" lengthAdjust="spacingAndGlyphs">24°10'</text>
<circle cx="407.52" cy="449.4" r="1.4" fill="#e2ecf8" stroke="#6a6ab0" stroke-width="0.8"/>
<path d="M0,1 C0,6 2.5,8.5 6.5,8.5 C10.5,8.5 13,6 13,1 M6.5,0 V13 M3,11 H10" transform="translate(421.55,456.75) scale(0.97,0.95)" fill="none" stroke="#111" stroke-width="1.5" vector-effect="non-scaling-stroke" stroke-linecap="round" stroke-linejoin="round"/>
<text x="436.4" y="462.6" font-family='"Liberation Sans",sans-serif' font-size="6.3" fill="#222" textLength="15.3" lengthAdjust="spacingAndGlyphs">13°07'</text>
<text x="436.4" y="468.7" font-family='"Liberation Sans",sans-serif' font-size="6" fill="#222" textLength="4" lengthAdjust="spacingAndGlyphs">R</text>
<circle cx="423.22" cy="415.7" r="1.4" fill="#e2ecf8" stroke="#6a6ab0" stroke-width="0.8"/>
<path d="M1,0 V5 M1,3 L5,0 M1,2.5 L5,5 M2.5,5.5 A1.3,1.3 0 1 0 2.51,5.5 Z" transform="translate(444.4,419.1) scale(1,0.98)" fill="none" stroke="#111" stroke-width="0.8" vector-effect="non-scaling-stroke" stroke-linecap="round" stroke-linejoin="round"/>
<text x="449.8" y="421.2" font-family='"Liberation Sans",sans-serif' font-size="6.3" fill="#222" textLength="16.2" lengthAdjust="spacingAndGlyphs">27°38'</text>
<text x="449.8" y="427.3" font-family='"Liberation Sans",sans-serif' font-size="6" fill="#222" textLength="4" lengthAdjust="spacingAndGlyphs">R</text>
<circle cx="426.46" cy="337.91" r="1.4" fill="#e2ecf8" stroke="#6a6ab0" stroke-width="0.8"/>
<path d="M0,0 V8 M10,0 V8 M0,4 H10 M5,1 V8.5 M5,8.5 A2.7,2.7 0 1 0 5.01,8.5 Z" transform="translate(445.75,325.75) scale(0.9,1.02)" fill="none" stroke="#d02828" stroke-width="1.5" vector-effect="non-scaling-stroke" stroke-linecap="round" stroke-linejoin="round"/>
<text x="456.5" y="332.5" font-family='"Liberation Sans",sans-serif' font-size="6.3" fill="#d02828" textLength="14.3" lengthAdjust="spacingAndGlyphs">28°18'</text>
<text x="456.5" y="338.3" font-family='"Liberation Sans",sans-serif' font-size="6" fill="#d02828" textLength="4" lengthAdjust="spacingAndGlyphs">R</text>
<line x1="236.76" y1="283.93" x2="226.91" y2="265.31" stroke="#4f9dac" stroke-width="0.9"/>
<line x1="236.23" y1="284.21" x2="235.06" y2="282.03" stroke="#4f9dac" stroke-width="0.9"/>
<line x1="217.54" y1="297.3" x2="208.9" y2="287.19" stroke="#4f9dac" stroke-width="0.9"/>
<line x1="213.17" y1="301.43" x2="194.53" y2="286.52" stroke="#4f9dac" stroke-width="0.9"/>
<line x1="209.63" y1="305.18" x2="205.93" y2="301.84" stroke="#4f9dac" stroke-width="0.9"/>
<line x1="186.92" y1="392.61" x2="172.01" y2="396.1" stroke="#4f9dac" stroke-width="0.9"/>
<line x1="185.48" y1="384.78" x2="157.45" y2="389.01" stroke="#4f9dac" stroke-width="0.9"/>
<line x1="188.89" y1="399.98" x2="158.01" y2="409.42" stroke="#4f9dac" stroke-width="0.9"/>
<line x1="239.43" y1="459.24" x2="236.68" y2="465.39" stroke="#4f9dac" stroke-width="0.9"/>
<line x1="234.77" y1="456.78" x2="219.9" y2="483.35" stroke="#4f9dac" stroke-width="0.9"/>
<line x1="325.33" y1="459.84" x2="327.53" y2="464.4" stroke="#4f9dac" stroke-width="0.9"/>
<line x1="338.19" y1="452.48" x2="350.25" y2="469.51" stroke="#4f9dac" stroke-width="0.9"/>
<line x1="373.84" y1="408.99" x2="378.82" y2="411.2" stroke="#4f9dac" stroke-width="0.9"/>
<line x1="369.69" y1="417.67" x2="382.46" y2="424.47" stroke="#4f9dac" stroke-width="0.9"/>
<line x1="363.26" y1="313.8" x2="366.86" y2="311.14" stroke="#4f9dac" stroke-width="0.9"/>
<line x1="380.52" y1="357.02" x2="382.15" y2="356.78" stroke="#4f9dac" stroke-width="0.9"/>
<line x1="381.02" y1="361.2" x2="409.77" y2="359.37" stroke="#4f9dac" stroke-width="0.9"/>
<circle cx="236.76" cy="283.93" r="1.4" fill="#e2ecf8" stroke="#c07080" stroke-width="0.8"/>
<path d="M0,0 V8 M10,0 V8 M0,4 H10 M5,1 V8.5 M5,8.5 A2.7,2.7 0 1 0 5.01,8.5 Z" transform="translate(218.1,250.6) scale(0.92,0.96)" fill="none" stroke="#111" stroke-width="1.6" vector-effect="non-scaling-stroke" stroke-linecap="round" stroke-linejoin="round"/>
<text x="228.7" y="256" font-family='"Liberation Sans",sans-serif' font-size="6.3" fill="#222" textLength="15.5" lengthAdjust="spacingAndGlyphs">13°21'</text>
<circle cx="236.23" cy="284.21" r="1.4" fill="#e2ecf8" stroke="#c07080" stroke-width="0.8"/>
<path d="M4.5,0 A4.4,4.4 0 1 0 4.51,0 Z M4.5,8.8 V12 M1.5,10.6 H7.5" transform="translate(227.6,268.4) scale(0.71,0.95)" fill="none" stroke="#111" stroke-width="1.6" vector-effect="non-scaling-stroke" stroke-linecap="round" stroke-linejoin="round"/>
<text x="235.6" y="272.9" font-family='"Liberation Sans",sans-serif' font-size="6.3" fill="#222" textLength="16.3" lengthAdjust="spacingAndGlyphs">13°42'</text>
<circle cx="217.54" cy="297.3" r="1.4" fill="#e2ecf8" stroke="#c07080" stroke-width="0.8"/>
<path d="M1,0 C1.5,3 7.5,3 8,0 M4.5,2.8 A3.6,3.6 0 1 0 4.51,2.8 Z M4.5,10 V15 M1.5,12.7 H7.5" transform="translate(199.4,273.8) scale(0.81,0.87)" fill="none" stroke="#111" stroke-width="1.6" vector-effect="non-scaling-stroke" stroke-linecap="round" stroke-linejoin="round"/>
<text x="208" y="280" font-family='"Liberation Sans",sans-serif' font-size="6.3" fill="#222" textLength="16.3" lengthAdjust="spacingAndGlyphs">27°00'</text>
<text x="208" y="286.6" font-family='"Liberation Sans",sans-serif' font-size="6" fill="#222" textLength="4" lengthAdjust="spacingAndGlyphs">R</text>
<circle cx="213.17" cy="301.43" r="1.4" fill="#e2ecf8" stroke="#c07080" stroke-width="0.8"/>
<path d="M0,2 C0,9 12,9 12,2 M6,1 A2.1,2.1 0 1 0 6.01,1 Z M6,7.5 V14 M2.5,11 H9.5" transform="translate(181.8,274.4) scale(0.95,0.93)" fill="none" stroke="#30b030" stroke-width="1.6" vector-effect="non-scaling-stroke" stroke-linecap="round" stroke-linejoin="round"/>
<circle cx="209.63" cy="305.18" r="1.4" fill="#e2ecf8" stroke="#c07080" stroke-width="0.8"/>
<path d="M7,0 A7,7 0 1 0 7.01,0 Z M7,6.2 A0.8,0.8 0 1 0 7.01,6.2 Z" transform="translate(192.9,289.6) scale(0.91,0.89)" fill="none" stroke="#2020b0" stroke-width="1.6" vector-effect="non-scaling-stroke" stroke-linecap="round" stroke-linejoin="round"/>
<text x="207" y="295.5" font-family='"Liberation Sans",sans-serif' font-size="6.3" fill="#2020b0" textLength="14.3" lengthAdjust="spacingAndGlyphs">3°30'</text>
<circle cx="186.92" cy="392.61" r="1.4" fill="#e2ecf8" stroke="#c07080" stroke-width="0.8"/>
<path d="M0.5,2.5 C0.5,-0.5 5,-0.5 5,2.5 C5,5 2,6.5 0,8 H10 M7.5,0.5 V11" transform="translate(158.8,392.3) scale(0.89,1.06)" fill="none" stroke="#d02828" stroke-width="1.6" vector-effect="non-scaling-stroke" stroke-linecap="round" stroke-linejoin="round"/>
<text x="169.2" y="396" font-family='"Liberation Sans",sans-serif' font-size="6.3" fill="#d02828" textLength="16.8" lengthAdjust="spacingAndGlyphs">28°05'</text>
<circle cx="185.48" cy="384.78" r="1.4" fill="#e2ecf8" stroke="#c07080" stroke-width="0.8"/>
<path d="M2.4,6.2 A2.4,2.4 0 1 0 2.41,6.2 Z M9.6,6.2 A2.4,2.4 0 1 0 9.61,6.2 Z M3,6.3 C1.5,4.5 1.8,1.8 3.5,0.8 C5,-0.2 7,-0.2 8.5,0.8 C10.2,1.8 10.5,4.5 9,6.3" transform="translate(143.1,385.5) scale(0.91,0.88)" fill="none" stroke="#30b030" stroke-width="1.4" vector-effect="non-scaling-stroke" stroke-linecap="round" stroke-linejoin="round"/>
<text x="155.8" y="389" font-family='"Liberation Sans",sans-serif' font-size="6.3" fill="#30b030" textLength="15.6" lengthAdjust="spacingAndGlyphs">23°27'</text>
<circle cx="188.89" cy="399.98" r="1.4" fill="#e2ecf8" stroke="#c07080" stroke-width="0.8"/>
<path d="M0,1 C0,6 2.5,8.5 6.5,8.5 C10.5,8.5 13,6 13,1 M6.5,0 V13 M3,11 H10" transform="translate(143.8,405.6) scale(0.86,0.99)" fill="none" stroke="#2020b0" stroke-width="1.6" vector-effect="non-scaling-stroke" stroke-linecap="round" stroke-linejoin="round"/>
<text x="156.5" y="410.5" font-family='"Liberation Sans",sans-serif' font-size="6.3" fill="#2020b0" textLength="13.8" lengthAdjust="spacingAndGlyphs">2°31'</text>
<circle cx="239.43" cy="459.24" r="1.4" fill="#e2ecf8" stroke="#c07080" stroke-width="0.8"/>
<path d="M2.5,0 V11.5 M0,1.5 H6.5 M2.5,6.5 C3.5,4.5 8.5,4 8.5,7.5 C8.5,10 6.5,11 6.5,13 C6.5,14.5 7.5,15 8.5,14.5" transform="translate(228.8,467.7) scale(0.93,0.79)" fill="none" stroke="#111" stroke-width="1.6" vector-effect="non-scaling-stroke" stroke-linecap="round" stroke-linejoin="round"/>
<text x="238.7" y="473.5" font-family='"Liberation Sans",sans-serif' font-size="6.3" fill="#222" textLength="15" lengthAdjust="spacingAndGlyphs">19°06'</text>
<circle cx="234.77" cy="456.78" r="1.4" fill="#e2ecf8" stroke="#c07080" stroke-width="0.8"/>
<path d="M0,0 V3 M4,0 V3 M0,1.5 H4 M2,0.5 V4 M2,5.5 A1,1 0 1 0 2.01,5.5 Z" transform="translate(214.3,488.4) scale(0.6,0.8)" fill="none" stroke="#111" stroke-width="1.6" vector-effect="non-scaling-stroke" stroke-linecap="round" stroke-linejoin="round"/>
<text x="218.7" y="490" font-family='"Liberation Sans",sans-serif' font-size="6.3" fill="#222" textLength="15.6" lengthAdjust="spacingAndGlyphs">16°02'</text>
<circle cx="325.33" cy="459.84" r="1.4" fill="#e2ecf8" stroke="#c07080" stroke-width="0.8"/>
<path d="M0.5,0.5 C8,0.3 12,4 12,7.5 C12,11 8,14.7 0.5,14.5 C4,12.5 5.5,10.5 5.5,7.5 C5.5,4.5 4,2.5 0.5,0.5 Z" transform="translate(325.2,465.7) scale(1.04,0.91)" fill="none" stroke="#d02828" stroke-width="1.6" vector-effect="non-scaling-stroke" stroke-linecap="round" stroke-linejoin="round"/>
<text x="339" y="471.4" font-family='"Liberation Sans",sans-serif' font-size="6.3" fill="#d02828" textLength="15.8" lengthAdjust="spacingAndGlyphs">10°48'</text>
<circle cx="338.19" cy="452.48" r="1.4" fill="#e2ecf8" stroke="#c07080" stroke-width="0.8"/>
<path d="M1,0 V5 M1,3 L5,0 M1,2.5 L5,5 M2.5,5.5 A1.3,1.3 0 1 0 2.51,5.5 Z" transform="translate(353.85,473.05) scale(0.64,0.95)" fill="none" stroke="#111" stroke-width="1.1" vector-effect="non-scaling-stroke" stroke-linecap="round" stroke-linejoin="round"/>
<text x="359.1" y="477.3" font-family='"Liberation Sans",sans-serif' font-size="6.3" fill="#222" textLength="15.2" lengthAdjust="spacingAndGlyphs">19°26'</text>
<text x="358" y="481.6" font-family='"Liberation Sans",sans-serif' font-size="6" fill="#222" textLength="4" lengthAdjust="spacingAndGlyphs">R</text>
<circle cx="373.84" cy="408.99" r="1.4" fill="#e2ecf8" stroke="#c07080" stroke-width="0.8"/>
<path d="M6.5,0 A6.5,6.5 0 1 0 6.51,0 Z M1.9,1.9 L11.1,11.1 M11.1,1.9 L1.9,11.1" transform="translate(380.5,409) scale(1.01,0.9)" fill="none" stroke="#111" stroke-width="1.6" vector-effect="non-scaling-stroke" stroke-linecap="round" stroke-linejoin="round"/>
<text x="395.4" y="413.9" font-family='"Liberation Sans",sans-serif' font-size="6.3" fill="#222" textLength="15.2" lengthAdjust="spacingAndGlyphs">22°39'</text>
<circle cx="369.69" cy="417.67" r="1.4" fill="#e2ecf8" stroke="#c07080" stroke-width="0.8"/>
<path d="M3,0 V6 M0.4,1.5 L5.6,4.5 M5.6,1.5 L0.4,4.5" transform="translate(387.35,425.95) scale(1.02,0.92)" fill="none" stroke="#30c030" stroke-width="1.1" vector-effect="non-scaling-stroke" stroke-linecap="round" stroke-linejoin="round"/>
<text x="395.4" y="428.8" font-family='"Liberation Sans",sans-serif' font-size="6.3" fill="#30c030" textLength="15.2" lengthAdjust="spacingAndGlyphs">17°01'</text>
<circle cx="363.26" cy="313.8" r="1.4" fill="#e2ecf8" stroke="#c07080" stroke-width="0.8"/>
<path d="M4.5,3 A4.5,4.5 0 1 0 4.51,3 Z M7.7,4.3 L12,0 M7.5,0 H12 V4.5" transform="translate(368.4,299.9) scale(0.95,0.98)" fill="none" stroke="#111" stroke-width="1.6" vector-effect="non-scaling-stroke" stroke-linecap="round" stroke-linejoin="round"/>
<text x="381" y="305.8" font-family='"Liberation Sans",sans-serif' font-size="6.3" fill="#222" textLength="16.3" lengthAdjust="spacingAndGlyphs">20°47'</text>
<circle cx="380.52" cy="357.02" r="1.4" fill="#e2ecf8" stroke="#c07080" stroke-width="0.8"/>
<path d="M2.4,0 A2.4,2.4 0 1 0 2.41,0 Z M9.6,0 A2.4,2.4 0 1 0 9.61,0 Z M3.2,4.6 C2,6.5 2,9 3.5,10.2 C5,11.3 7,11.3 8.5,10.2 C10,9 10,6.5 8.8,4.6" transform="translate(385.5,350.4) scale(0.93,0.92)" fill="none" stroke="#2020b0" stroke-width="1.4" vector-effect="non-scaling-stroke" stroke-linecap="round" stroke-linejoin="round"/>
<text x="398.2" y="354.9" font-family='"Liberation Sans",sans-serif' font-size="6.3" fill="#2020b0" textLength="15.3" lengthAdjust="spacingAndGlyphs">23°27'</text>
<circle cx="381.02" cy="361.2" r="1.4" fill="#e2ecf8" stroke="#c07080" stroke-width="0.8"/>
<path d="M0.5,2.5 C0.5,-0.5 6.5,-0.5 6.5,2.5 C6.5,5 3.5,5.5 3.5,7.5 M3.5,7 V11 M0.5,9 H6.5" transform="translate(415.6,353.7) scale(0.9,0.93)" fill="none" stroke="#d02828" stroke-width="2.2" vector-effect="non-scaling-stroke" stroke-linecap="round" stroke-linejoin="round"/>
<line x1="190.3" y1="393" x2="379.1" y2="349.2" stroke="#c42a2a" stroke-width="1.8"/>
<line x1="211" y1="305.8" x2="190.3" y2="399.5" stroke="#30b030" stroke-width="1.6"/>
<path d="M3,0 V6 M0.4,1.5 L5.6,4.5 M5.6,1.5 L0.4,4.5" transform="translate(195.75,348.35) scale(1.55,1.55)" fill="none" stroke="#30b030" stroke-width="1.5" vector-effect="non-scaling-stroke" stroke-linecap="round" stroke-linejoin="round"/>
<circle cx="211" cy="305.8" r="1.8" fill="#203080" stroke="#203080" stroke-width="0.5"/>
<rect x="188.3" y="397.7" width="4" height="4" fill="#1830a0"/>
<circle cx="379.1" cy="348.5" r="1.5" fill="#203080" stroke="#203080" stroke-width="0.5"/>
<rect x="350.6" y="440.6" width="4" height="4" fill="#1878b0" transform="rotate(-30 352.6 442.6)"/>
<circle cx="341.8" cy="450.2" r="1.4" fill="#c8d0f0" stroke="#6a6ab0" stroke-width="0.8"/>
<circle cx="345" cy="448.2" r="1.4" fill="#c8d0f0" stroke="#6a6ab0" stroke-width="0.8"/>
<circle cx="376.2" cy="400.5" r="1.4" fill="#c8d0f0" stroke="#6a6ab0" stroke-width="0.8"/>
<circle cx="365.7" cy="424" r="1.4" fill="#c8d0f0" stroke="#6a6ab0" stroke-width="0.8"/>
<circle cx="243.2" cy="461.3" r="1.4" fill="#c8d0f0" stroke="#6a6ab0" stroke-width="0.8"/>
<circle cx="286.4" cy="469.1" r="1.4" fill="#c8d0f0" stroke="#6a6ab0" stroke-width="0.8"/>
<circle cx="282.8" cy="370.8" r="5.9" fill="#fff" stroke="#555570" stroke-width="1.1"/>
</g>
</svg>
</body></html>
